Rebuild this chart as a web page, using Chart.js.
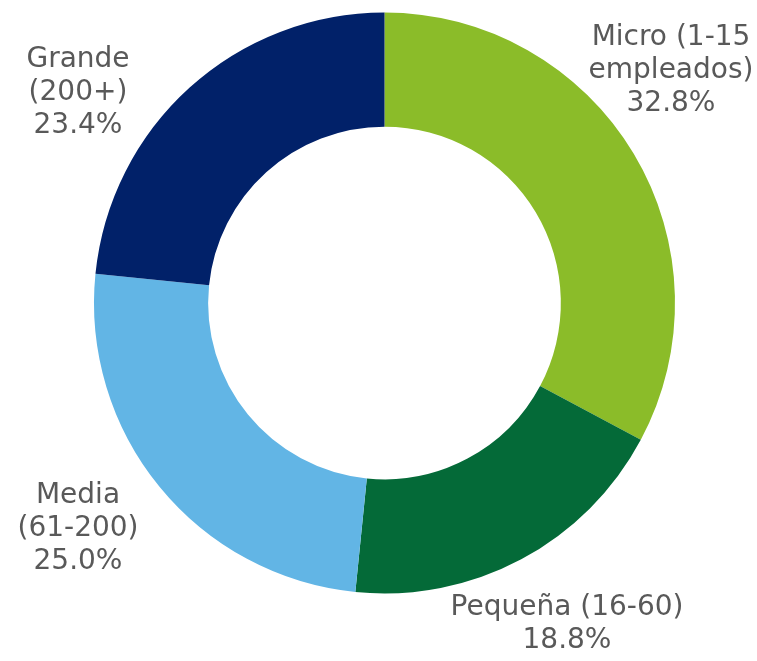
<!DOCTYPE html>
<html>
<head>
<meta charset="utf-8">
<script src="https://cdn.jsdelivr.net/npm/chart.js@4"></script>
<style>
  html, body { margin: 0; padding: 0; background: #ffffff; }
  #wrap { width: 757px; height: 661px; }
</style>
</head>
<body>
<div id="wrap"><canvas id="donut" width="757" height="661"></canvas></div>
<script>
// datos del gráfico
const categories = [
    ['Micro (1-15', 'empleados)'],
    ['Pequeña (16-60)'],
    ['Media', '(61-200)'],
    ['Grande', '(200+)']
];
const shares = [32.8, 18.8, 25.0, 23.4];
const sliceColors = ['#8bbc29', '#046a38', '#62b5e5', '#012169'];

// posición de cada etiqueta (centro x, primera línea base y)
const labelAnchors = [[671, 45], [567, 615], [78, 503], [78, 67]];

const labelFont = '28px "DejaVu Sans", Verdana, sans-serif';
const lineHeight = 33;

// plugin para dibujar etiquetas fuera del anillo
const outsideLabels = {
    id: 'outsideLabels',
    afterDatasetsDraw(chart) {
        const ctx = chart.ctx;
        ctx.save();
        ctx.font = labelFont;
        ctx.fillStyle = '#595959';
        ctx.textAlign = 'center';
        ctx.textBaseline = 'alphabetic';
        categories.forEach((lines, i) => {
            const all = lines.concat([shares[i].toFixed(1) + '%']);
            const [x, y] = labelAnchors[i];
            all.forEach((t, j) => ctx.fillText(t, x, y + j * lineHeight));
        });
        ctx.restore();
    }
};

new Chart(document.getElementById('donut').getContext('2d'), {
    type: 'doughnut',
    data: {
        labels: categories.map(c => c.join(' ')),
        datasets: [{
            data: shares,
            backgroundColor: sliceColors,
            borderWidth: 0
        }]
    },
    options: {
        responsive: false,
        animation: false,
        cutout: '60.7%',
        layout: {
            padding: { left: 94, right: 82, top: 12, bottom: 67 }
        },
        plugins: {
            legend: { display: false },
            tooltip: { enabled: false }
        }
    },
    plugins: [outsideLabels]
});
</script>
</body>
</html>
